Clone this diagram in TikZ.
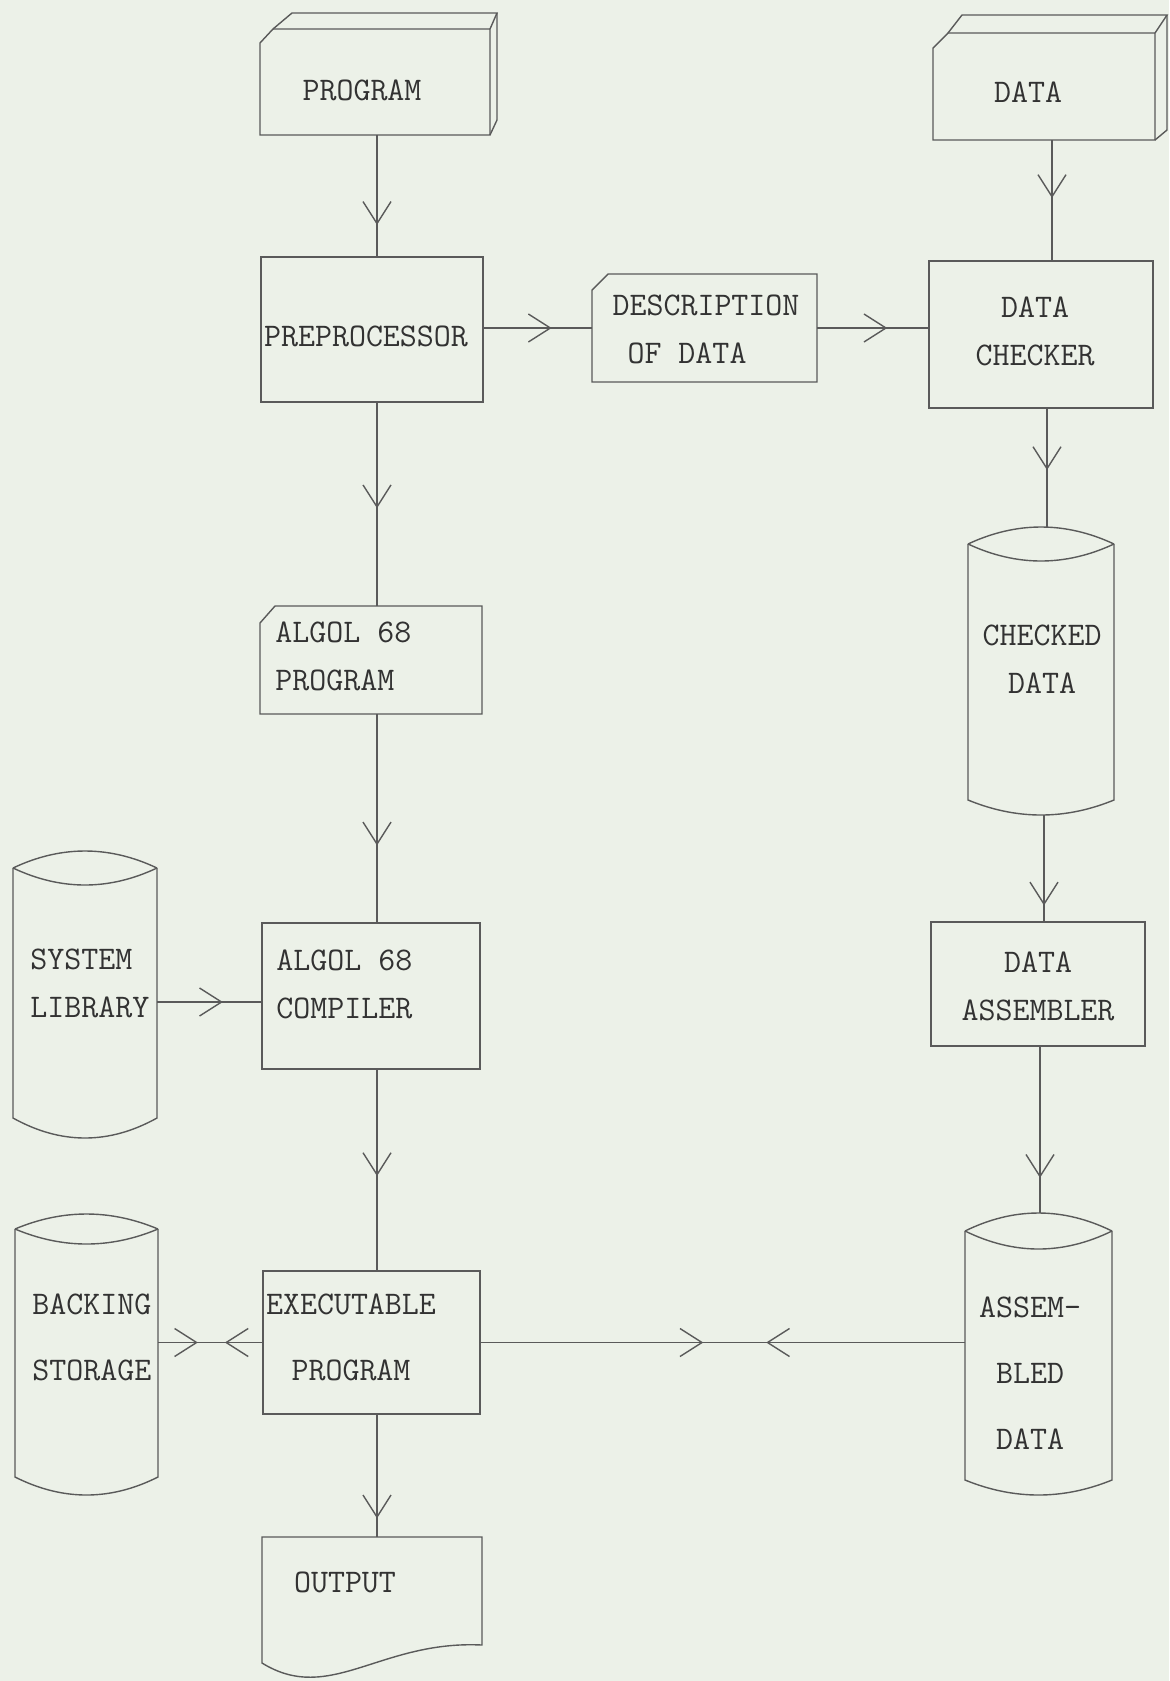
\documentclass[tikz,border=0pt]{standalone}
\usepackage{fontspec}
\setmonofont{Latin Modern Mono}
\usetikzlibrary{arrows.meta,decorations.markings,fit}
\definecolor{paper}{RGB}{236,241,232}
\definecolor{ink}{RGB}{90,90,90}
\definecolor{txt}{RGB}{50,50,50}
% #1 left x, #2 right x, #3 top corner y, #4 top sag, #5 bottom side end y, #6 bottom sag
\newcommand\mycyl[6]{%
  \pgfmathsetmacro\cxa{#1+(#2-#1)/3}%
  \pgfmathsetmacro\cxb{#2-(#2-#1)/3}%
  \pgfmathsetmacro\cyu{#3-4*#4/3}%
  \pgfmathsetmacro\cyd{#3+4*#4/3}%
  \pgfmathsetmacro\cyb{#5+4*#6/3}%
  \draw[ln] (#1,#3) -- (#1,#5) .. controls (\cxa,\cyb) and (\cxb,\cyb) .. (#2,#5) -- (#2,#3);
  \draw[ln] (#1,#3) .. controls (\cxa,\cyu) and (\cxb,\cyu) .. (#2,#3);
  \draw[ln] (#1,#3) .. controls (\cxa,\cyd) and (\cxb,\cyd) .. (#2,#3);}
\begin{document}
\begin{tikzpicture}[x=0.5pt,y=-0.5pt,
  ln/.style={draw=ink, line width=0.7pt},
  area/.style={inner sep=0pt, draw=none},
  boxr/.style={inner sep=0pt, draw=ink, line width=0.7pt},
  lbl/.style={font=\ttfamily\fontsize{16.5}{24}\selectfont, text=txt, inner sep=0pt, align=center},
  lblwide/.style={font=\ttfamily\fontsize{16.5}{33}\selectfont, text=txt, inner sep=0pt, align=center},
  midarr/.style={postaction={decorate, decoration={markings, mark=at position #1 with {\arrow[ink, line width=0.7pt]{Straight Barb[length=11pt,width=14pt]}}}}}
]
\fill[paper] (0,0) rectangle (1169,1681);
\useasboundingbox (0,0) rectangle (1169,1681);

% PROGRAM (card deck)
\node[area, fit={(260,13) (497,135)}] (prog) {};
\draw[ln] (260,43) -- (273,29) -- (490,29) -- (490,135) -- (260,135) -- cycle;
\draw[ln] (273,29) -- (292,13) -- (497,13) -- (490,29);
\draw[ln] (497,13) -- (497,120) -- (490,135);
\node[lbl] (progt) at (362,90) {PROGRAM};

% DATA (card deck)
\node[area, fit={(933,15) (1167,140)}] (data) {};
\draw[ln] (933,48) -- (948,33) -- (1155,33) -- (1155,140) -- (933,140) -- cycle;
\draw[ln] (948,33) -- (962,15) -- (1167,15) -- (1155,33);
\draw[ln] (1167,15) -- (1167,130) -- (1155,140);
\node[lbl] (datat) at (1028,92) {DATA};

% PREPROCESSOR
\node[boxr, fit={(261,257) (483,402)}] (pre) {};
\node[lbl] (pret) at (366,336) {PREPROCESSOR};

% DESCRIPTION OF DATA
\node[area, fit={(592,274) (817,382)}] (desc) {};
\draw[ln] (592,290) -- (608,274) -- (817,274) -- (817,382) -- (592,382) -- cycle;
\node[lbl, align=left] (desct) at (706,329) {DESCRIPTION\\\hspace*{7.5pt}OF DATA};

% DATA CHECKER
\node[boxr, fit={(929,261) (1153,408)}] (chk) {};
\node[lbl] (chkt) at (1035,331) {DATA\\CHECKER};

% CHECKED DATA
\node[area, fit={(968,527) (1114,815)}] (ckd) {};
\mycyl{968}{1114}{544}{17}{800}{15}
\node[lbl] (ckdt) at (1042,659) {CHECKED\\DATA};

% ALGOL 68 PROGRAM
\node[area, fit={(260,606) (482,714)}] (alg) {};
\draw[ln] (260,623) -- (275,606) -- (482,606) -- (482,714) -- (260,714) -- cycle;
\node[lbl, align=left, anchor=west] (algt) at (275,656) {ALGOL 68\\PROGRAM};

% SYSTEM LIBRARY
\node[area, fit={(13,851) (157,1138)}] (lib) {};
\mycyl{13}{157}{868}{17}{1118}{20}
\node[lbl, align=left, anchor=west] (libt) at (30,983) {SYSTEM\\LIBRARY};

% ALGOL 68 COMPILER
\node[boxr, fit={(262,923) (480,1069)}] (comp) {};
\node[lbl, align=left, anchor=west] (compt) at (276,984) {ALGOL 68\\COMPILER};

% DATA ASSEMBLER
\node[boxr, fit={(931,922) (1145,1046)}] (asmblr) {};
\node[lbl] (asmblrt) at (1038,986) {DATA\\ASSEMBLER};

% EXECUTABLE PROGRAM
\node[boxr, fit={(263,1271) (480,1414)}] (exec) {};
\node[lblwide] (exect) at (351,1337) {EXECUTABLE\\PROGRAM};

% BACKING STORAGE
\node[area, fit={(15,1214) (158,1495)}] (back) {};
\mycyl{15}{158}{1229}{15}{1477}{18}
\node[lblwide, align=left, anchor=west] (backt) at (32,1337) {BACKING\\STORAGE};

% ASSEMBLED DATA
\node[area, fit={(965,1213) (1112,1495)}] (asmd) {};
\mycyl{965}{1112}{1231}{18}{1480}{15}
\node[lblwide] (asmdt) at (1030,1373) {ASSEM-\\BLED\\DATA};

% OUTPUT (document)
\node[area, fit={(262,1537) (482,1663)}] (out) {};
\draw[ln] (262,1537) -- (482,1537) -- (482,1645)
  .. controls (380,1640) and (330,1705) .. (262,1663) -- cycle;
\node[lbl] (outt) at (345,1582) {OUTPUT};

% connectors
\coordinate (cL) at (377,0);
\coordinate (cR1) at (1052,0);
\coordinate (cR2) at (1047,0);
\coordinate (cR3) at (1044,0);
\coordinate (cR4) at (1040,0);
\coordinate (yLib) at (0,1002);

\draw[ln, midarr=0.74] (prog.south -| cL) -- (pre.north -| cL);
\draw[ln, midarr=0.52] (pre.south -| cL) -- (alg.north -| cL);
\draw[ln, midarr=0.63] (alg.south -| cL) -- (comp.north -| cL);
\draw[ln, midarr=0.53] (comp.south -| cL) -- (exec.north -| cL);
\draw[ln, midarr=0.85] (exec.south -| cL) -- (out.north -| cL);

\draw[ln, midarr=0.48] (data.south -| cR1) -- (chk.north -| cR1);
\draw[ln, midarr=0.52] (chk.south -| cR2) -- (ckd.north -| cR2);
\draw[ln, midarr=0.85] (ckd.south -| cR3) -- (asmblr.north -| cR3);
\draw[ln, midarr=0.79] (asmblr.south -| cR4) -- (asmd.north -| cR4);

\draw[ln, midarr=0.63] (pre.east |- desc.west) -- (desc.west);
\draw[ln, midarr=0.63] (desc.east) -- (chk.west |- desc.east);
\draw[ln, midarr=0.63] (lib.east |- yLib) -- (comp.west |- yLib);

\draw[ln, midarr=0.38] (back.east |- exec.west) -- (exec.west);
\draw[ln, midarr=0.36] (exec.west) -- (back.east |- exec.west);
\draw[ln, midarr=0.46] (exec.east) -- (asmd.west |- exec.east);
\draw[ln, midarr=0.41] (asmd.west |- exec.east) -- (exec.east);
\end{tikzpicture}
\end{document}
